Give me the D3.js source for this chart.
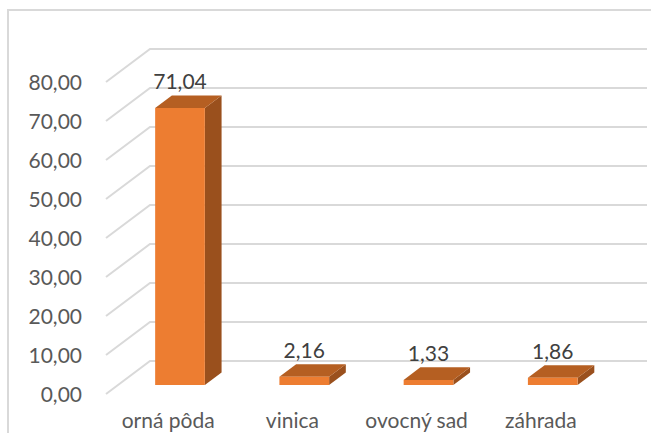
<!DOCTYPE html>
<html><head><meta charset="utf-8">
<script src="https://cdn.jsdelivr.net/npm/d3@7"></script>
<style>body{margin:0;background:#fff} svg{display:block} text{font-family:Lato,'Open Sans',sans-serif}</style>
</head><body><svg id="c" width="651" height="433"></svg>
<script>
const categories = ["orná pôda", "vinica", "ovocný sad", "záhrada"];
const values = [71.04, 2.16, 1.33, 1.86];
const yTicks = [0, 10, 20, 30, 40, 50, 60, 70, 80];

const fmt = v => d3.format(".2f")(v).replace(".", ",");

const svg = d3.select("#c");
const DX = 44, DY = -33;          // full depth offset of the 3D floor
const D1 = 0.27, D2 = 0.65;       // bar front/back depth fraction

const x = d3.scaleBand().domain(categories).range([106, 603]).paddingInner(0.6).paddingOuter(0.3);
const y = d3.scaleLinear().domain([0, 80]).range([394, 82]);
const p = (xc, v, d) => [xc + DX * d, y(v) + DY * d];

// chart border
svg.append("rect").attr("x", 8).attr("y", 10).attr("width", 700).attr("height", 500)
  .attr("fill", "none").attr("stroke", "#d9d9d9").attr("stroke-width", 2);

// gridlines (side wall diagonal + back wall horizontal)
const [r0, r1] = x.range();
svg.append("g").selectAll("polyline").data(yTicks).join("polyline")
  .attr("points", v => [p(r0, v, 0), p(r0, v, 1), p(r1, v, 1)].map(q => q.join(",")).join(" "))
  .attr("fill", "none").attr("stroke", "#d9d9d9").attr("stroke-width", 2);

// tick labels
svg.append("g").selectAll("text").data(yTicks).join("text")
  .attr("x", 82).attr("y", v => y(v) + 8)
  .attr("text-anchor", "end").attr("font-size", 21).attr("fill", "#595959")
  .text(fmt);

// bars
const bars = svg.append("g").selectAll("g").data(categories.map((c, i) => ({c, v: values[i]}))).join("g");
const poly = pts => pts.map(q => q.join(",")).join(" ");
bars.each(function(d) {
  const g = d3.select(this);
  const x0 = x(d.c), x1 = x(d.c) + x.bandwidth();
  g.append("polygon").attr("fill", "#9a501d")
    .attr("points", poly([p(x1, 0, D1), p(x1, d.v, D1), p(x1, d.v, D2), p(x1, 0, D2)]));
  g.append("polygon").attr("fill", "#b55f22")
    .attr("points", poly([p(x0, d.v, D1), p(x1, d.v, D1), p(x1, d.v, D2), p(x0, d.v, D2)]));
  g.append("polygon").attr("fill", "#ed7d31")
    .attr("points", poly([p(x0, 0, D1), p(x1, 0, D1), p(x1, d.v, D1), p(x0, d.v, D1)]));
  const c = p(x0 + x.bandwidth() / 2, d.v, D1);
  g.append("text").attr("x", c[0]).attr("y", c[1] - 19)
    .attr("text-anchor", "middle").attr("font-size", 21).attr("fill", "#404040")
    .text(fmt(d.v));
});

// category labels
svg.append("g").selectAll("text").data(categories).join("text")
  .attr("x", c => x(c) + x.bandwidth() / 2).attr("y", 428)
  .attr("text-anchor", "middle").attr("font-size", 21).attr("fill", "#595959")
  .text(c => c);
</script></body></html>
